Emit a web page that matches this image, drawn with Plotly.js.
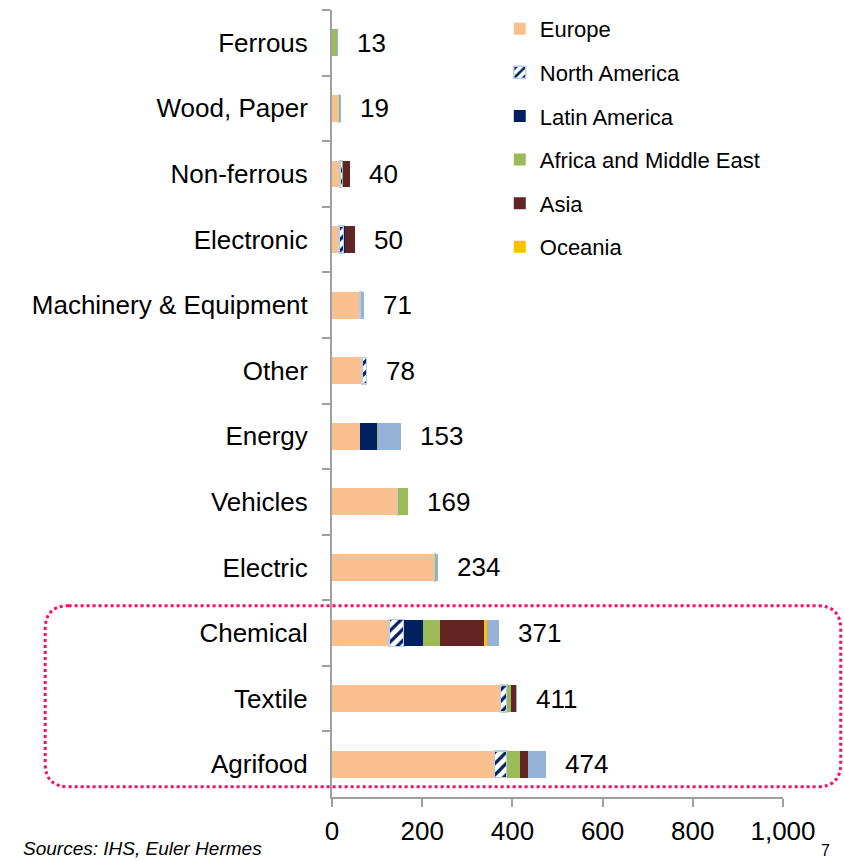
<!DOCTYPE html>
<html>
<head>
<meta charset="utf-8">
<script src="https://cdn.plot.ly/plotly-3.0.1.min.js"></script>
<style>
  html, body { margin: 0; padding: 0; background: #ffffff; }
  #chart { width: 844px; height: 861px; }
</style>
</head>
<body>
<div id="chart"></div>
<script>
// Categories (top to bottom)
const categories = ["Ferrous", "Wood, Paper", "Non-ferrous", "Electronic", "Machinery & Equipment", "Other", "Energy", "Vehicles", "Electric", "Chemical", "Textile", "Agrifood"];
// Series values by region
const europe       = [1, 14, 18, 16, 62, 67, 62, 146, 228, 126, 374, 360];
const northAmerica = [0, 2, 5, 11, 2, 10, 0, 1, 1, 34, 14, 28];
const latinAmerica = [0, 0, 0, 1, 0, 1, 37, 0, 0, 42, 0, 0];
const africaME     = [9, 1, 1, 0, 0, 0, 4, 22, 2, 37, 8, 28];
const asia         = [0, 0, 16, 22, 0, 0, 0, 0, 0, 99, 11, 19];
const oceania      = [0, 0, 0, 0, 0, 0, 0, 0, 0, 5, 0, 0];
const unspecified  = [3, 2, 0, 0, 7, 0, 50, 0, 3, 28, 4, 39];
// Total labels
const totals = [13, 19, 40, 50, 71, 78, 153, 169, 234, 371, 411, 474];
// x-axis ticks
const xTicks = [0, 200, 400, 600, 800, 1000];
const xTickLabels = ["0", "200", "400", "600", "800", "1,000"];

const FONT = "Liberation Sans, Arial, Helvetica, sans-serif";
const nz = a => a.map(v => (v === 0 ? null : v));

const series = [
  { name: "Europe", vals: europe, marker: { color: "#FAC090" } },
  { name: "North America", vals: northAmerica, marker: {
      color: "#FFFFFF",
      pattern: { shape: "/", fgcolor: "#002060", bgcolor: "#FFFFFF", size: 8, solidity: 0.4 },
      line: { color: "#B9CDE5", width: 1.5 } } },
  { name: "Latin America", vals: latinAmerica, marker: { color: "#002060" } },
  { name: "Africa and Middle East", vals: africaME, marker: { color: "#9BBB59" } },
  { name: "Asia", vals: asia, marker: { color: "#632523" } },
  { name: "Oceania", vals: oceania, marker: { color: "#FFC000" } },
  { name: "Unspecified", vals: unspecified, marker: { color: "#95B3D7" }, hide: true }
];

const traces = series.map((s, i) => ({
  type: "bar",
  orientation: "h",
  name: s.name,
  y: categories,
  x: nz(s.vals),
  marker: s.marker,
  legendgroup: "g" + i,
  showlegend: !s.hide,
  hoverinfo: "name+x"
}));

const sums = categories.map((c, i) => series.reduce((acc, s) => acc + s.vals[i], 0));

const annotations = categories.map((c, i) => ({
  x: sums[i], y: c, xref: "x", yref: "y",
  text: String(totals[i]),
  showarrow: false, xanchor: "left", yanchor: "middle", xshift: 17,
  font: { family: FONT, size: 26, color: "#000000" }
}));

annotations.push({
  xref: "paper", yref: "paper", x: -0.689, y: -0.065,
  xanchor: "left", yanchor: "middle", showarrow: false,
  text: "<i>Sources: IHS, Euler Hermes</i>",
  font: { family: FONT, size: 19, color: "#000000" }
});
annotations.push({
  xref: "paper", yref: "paper", x: 1.095, y: -0.0686,
  xanchor: "center", yanchor: "middle", showarrow: false,
  text: "7",
  font: { family: FONT, size: 16, color: "#000000" }
});

// rounded dotted highlight box (paper coords)
const x0 = -0.636, x1 = 1.128, y0 = 0.013, y1 = 0.243, rx = 0.052, ry = 0.03;
const boxPath = `M ${x0 + rx} ${y1} L ${x1 - rx} ${y1} Q ${x1} ${y1} ${x1} ${y1 - ry} L ${x1} ${y0 + ry} Q ${x1} ${y0} ${x1 - rx} ${y0} L ${x0 + rx} ${y0} Q ${x0} ${y0} ${x0} ${y0 + ry} L ${x0} ${y1 - ry} Q ${x0} ${y1} ${x0 + rx} ${y1} Z`;

const layout = {
  width: 844, height: 861,
  margin: { l: 332, r: 61, t: 10, b: 64, autoexpand: false },
  paper_bgcolor: "#FFFFFF", plot_bgcolor: "#FFFFFF",
  font: { family: FONT, size: 26, color: "#000000" },
  barmode: "stack",
  bargap: 0.59,
  showlegend: true,
  legend: {
    x: 0.372, y: 1.0026, xanchor: "left", yanchor: "top",
    font: { family: FONT, size: 22, color: "#000000" },
    bgcolor: "rgba(0,0,0,0)",
    tracegroupgap: 12,
    traceorder: "grouped",
    itemwidth: 30
  },
  xaxis: {
    range: [0, 1000],
    tickvals: xTicks, ticktext: xTickLabels,
    showgrid: false, zeroline: false,
    showline: true, linecolor: "#A0A0A0", linewidth: 2,
    ticks: "outside", ticklen: 8, tickcolor: "#A0A0A0", tickwidth: 2,
    ticklabelstandoff: 2,
    tickfont: { family: FONT, size: 26, color: "#000000" },
    fixedrange: true
  },
  yaxis: {
    type: "category",
    autorange: "reversed",
    showgrid: false, zeroline: false,
    showline: true, linecolor: "#A0A0A0", linewidth: 2,
    ticks: "outside", tickson: "boundaries", ticklen: 8, tickcolor: "#A0A0A0", tickwidth: 2,
    ticklabelstandoff: 17,
    tickfont: { family: FONT, size: 26, color: "#000000" },
    fixedrange: true
  },
  annotations: annotations,
  shapes: [{
    type: "path", xref: "paper", yref: "paper", path: boxPath,
    line: { color: "#FF0A64", width: 3, dash: "dot" },
    fillcolor: "rgba(0,0,0,0)", layer: "above"
  }]
};

Plotly.newPlot("chart", traces, layout, { displayModeBar: false, staticPlot: true });
</script>
</body>
</html>
